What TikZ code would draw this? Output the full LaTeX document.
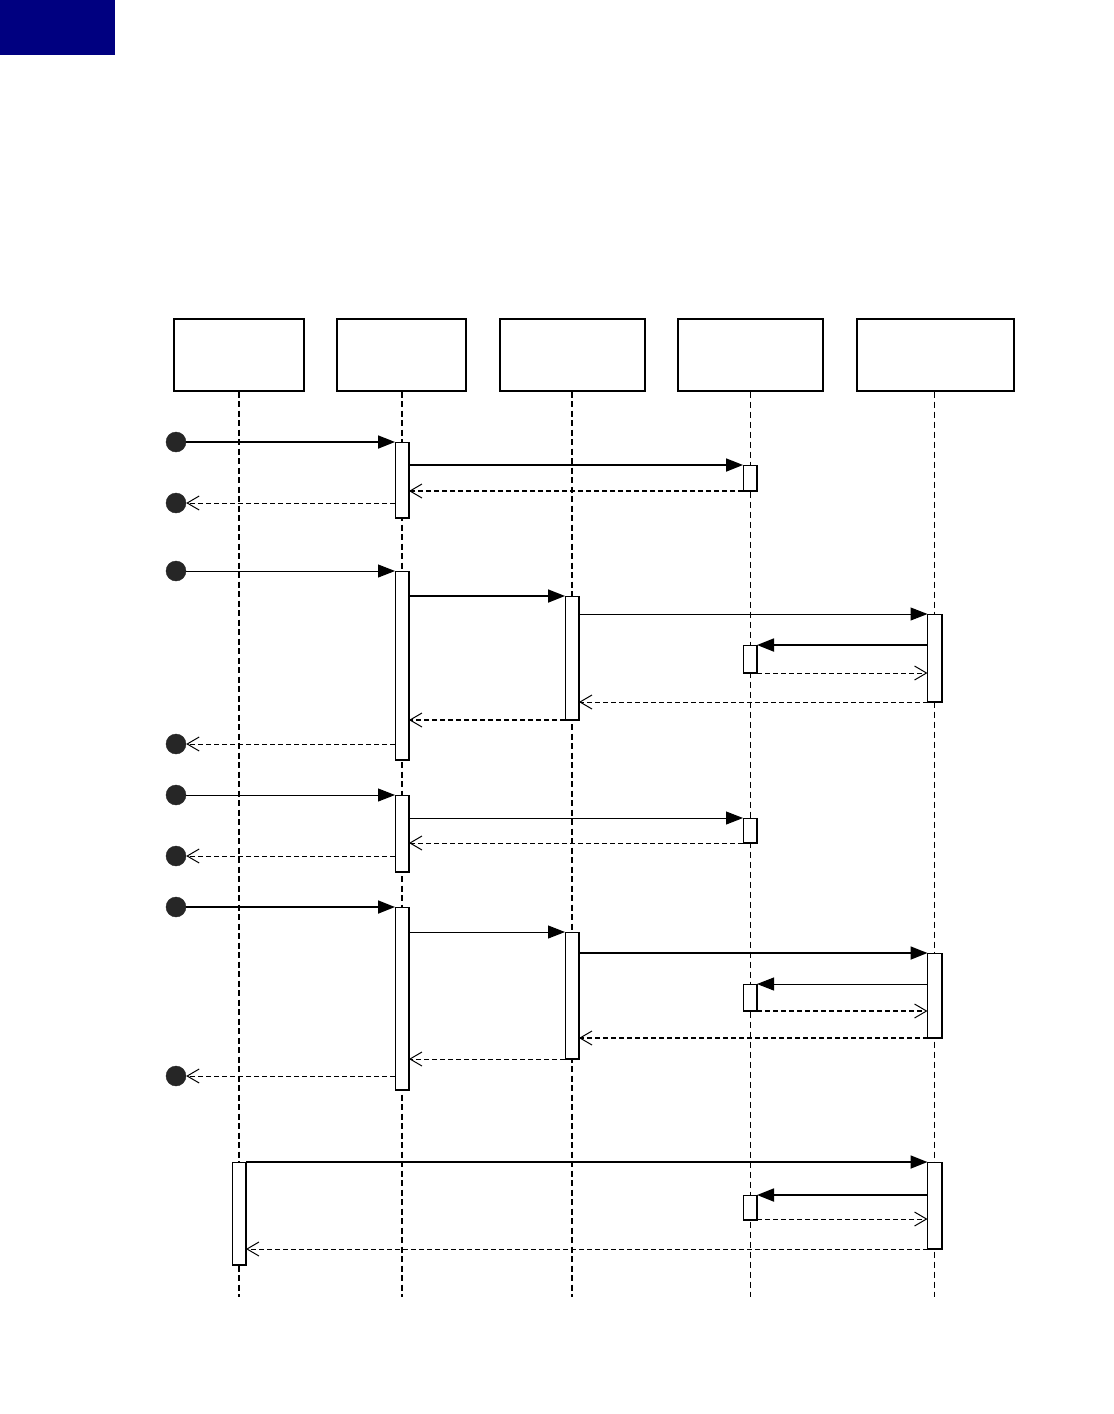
\documentclass[tikz,border=0pt]{standalone}
\usetikzlibrary{arrows.meta}
\definecolor{navyblk}{RGB}{0,0,128}
\definecolor{dotgray}{RGB}{38,38,38}
\tikzset{
  head/.style={draw, line width=1.3pt, fill=white, inner sep=0pt, minimum height=72pt},
  lifeA/.style={line width=2pt, dash pattern=on 6pt off 3.5pt},
  lifeB/.style={line width=0.8pt, dash pattern=on 6pt off 4pt},
  actn/.style={draw, line width=1pt, fill=white, inner sep=0pt, minimum width=14pt, anchor=north, outer sep=0pt},
  dot/.style={circle, fill=dotgray, draw=dotgray, inner sep=0pt, minimum size=20pt},
  callthick/.style={line width=1.8pt, -{Triangle[length=17pt,width=13pt]}},
  callthin/.style={line width=1pt, -{Triangle[length=17pt,width=13pt]}},
  retthick/.style={line width=1.8pt, dash pattern=on 5pt off 3pt, -{Straight Barb[length=12pt,width=14pt,line width=1pt]}},
  retthin/.style={line width=0.9pt, dash pattern=on 5pt off 3pt, -{Straight Barb[length=12pt,width=14pt,line width=1pt]}},
}
\newcommand\actbox[4]{%
  \node[actn, minimum height=#4pt-#3pt] (#1) at (#2,#3) {};
  \draw[line width=2pt] (#1.north east) -- (#1.south east) -- (#1.south west);
}
\begin{document}
\begin{tikzpicture}[x=1pt,y=-1pt]
\useasboundingbox (0,0) rectangle (1114,1414);
\fill[navyblk] (0,0) rectangle (115,55);
% heads
\node[head, minimum width=130pt] (h1) at (239,355) {};
\node[head, minimum width=129pt] (h2) at (401.5,355) {};
\node[head, minimum width=145pt] (h3) at (572.5,355) {};
\node[head, minimum width=145pt] (h4) at (750.5,355) {};
\node[head, minimum width=157pt] (h5) at (935.5,355) {};
\coordinate (e1) at (239,1297);
\coordinate (e2) at (402,1297);
\coordinate (e3) at (572,1297);
\coordinate (e4) at (750,1297);
\coordinate (e5) at (934,1297);
\draw[lifeA] (h1.south -| e1) -- (e1);
\draw[lifeA] (h2.south -| e2) -- (e2);
\draw[lifeA] (h3.south -| e3) -- (e3);
\draw[lifeB] (h4.south -| e4) -- (e4);
\draw[lifeB] (h5.south -| e5) -- (e5);

% block 1
\actbox{a1}{402}{442}{518}
\actbox{b1}{750}{465}{491}
\node[dot] (c1) at (176,442) {};
\node[dot] (c2) at (176,503) {};
\draw[callthick] (c1) -- (a1.north west);
\draw[callthick] (a1.east |- 0,465) -- (b1.north west);
\draw[retthick] (b1.south west) -- (a1.east |- 0,491);
\draw[retthin] (a1.west |- 0,503) -- (c2);

% block 2
\actbox{a2}{402}{571}{760}
\actbox{m2}{572}{596}{720}
\actbox{r2}{934.5}{614}{702}
\actbox{b2}{750}{645}{673}
\node[dot] (c3) at (176,571) {};
\node[dot] (c4) at (176,744) {};
\draw[callthin] (c3) -- (a2.north west);
\draw[callthick] (a2.east |- 0,596) -- (m2.north west);
\draw[callthin] (m2.east |- 0,614) -- (r2.north west);
\draw[callthick] (r2.west |- 0,645) -- (b2.north east);
\draw[retthin] (b2.south east) -- (r2.west |- 0,673);
\draw[retthin] (r2.south west) -- (m2.east |- 0,702);
\draw[retthick] (m2.south west) -- (a2.east |- 0,720);
\draw[retthin] (a2.west |- 0,744) -- (c4);

% block 3
\actbox{a3}{402}{795}{872}
\actbox{b3}{750}{818}{843}
\node[dot] (c5) at (176,795) {};
\node[dot] (c6) at (176,856) {};
\draw[callthin] (c5) -- (a3.north west);
\draw[callthin] (a3.east |- 0,818) -- (b3.north west);
\draw[retthin] (b3.south west) -- (a3.east |- 0,843);
\draw[retthin] (a3.west |- 0,856) -- (c6);

% block 4
\actbox{a4}{402}{907}{1090}
\actbox{m4}{572}{932}{1059}
\actbox{r4}{934.5}{953}{1038}
\actbox{b4}{750}{984}{1011}
\node[dot] (c7) at (176,907) {};
\node[dot] (c8) at (176,1076) {};
\draw[callthick] (c7) -- (a4.north west);
\draw[callthin] (a4.east |- 0,932) -- (m4.north west);
\draw[callthick] (m4.east |- 0,953) -- (r4.north west);
\draw[callthin] (r4.west |- 0,984) -- (b4.north east);
\draw[retthick] (b4.south east) -- (r4.west |- 0,1011);
\draw[retthick] (r4.south west) -- (m4.east |- 0,1038);
\draw[retthin] (m4.south west) -- (a4.east |- 0,1059);
\draw[retthin] (a4.west |- 0,1076) -- (c8);

% block 5
\actbox{s5}{239}{1162}{1265}
\actbox{r5}{934.5}{1162}{1249}
\actbox{b5}{750}{1195}{1220}
\draw[callthick] (s5.north east) -- (r5.north west);
\draw[callthick] (r5.west |- 0,1195) -- (b5.north east);
\draw[retthin] (b5.east |- 0,1219) -- (r5.west |- 0,1219);
\draw[retthin] (r5.south west) -- (s5.east |- 0,1249);
\end{tikzpicture}
\end{document}
